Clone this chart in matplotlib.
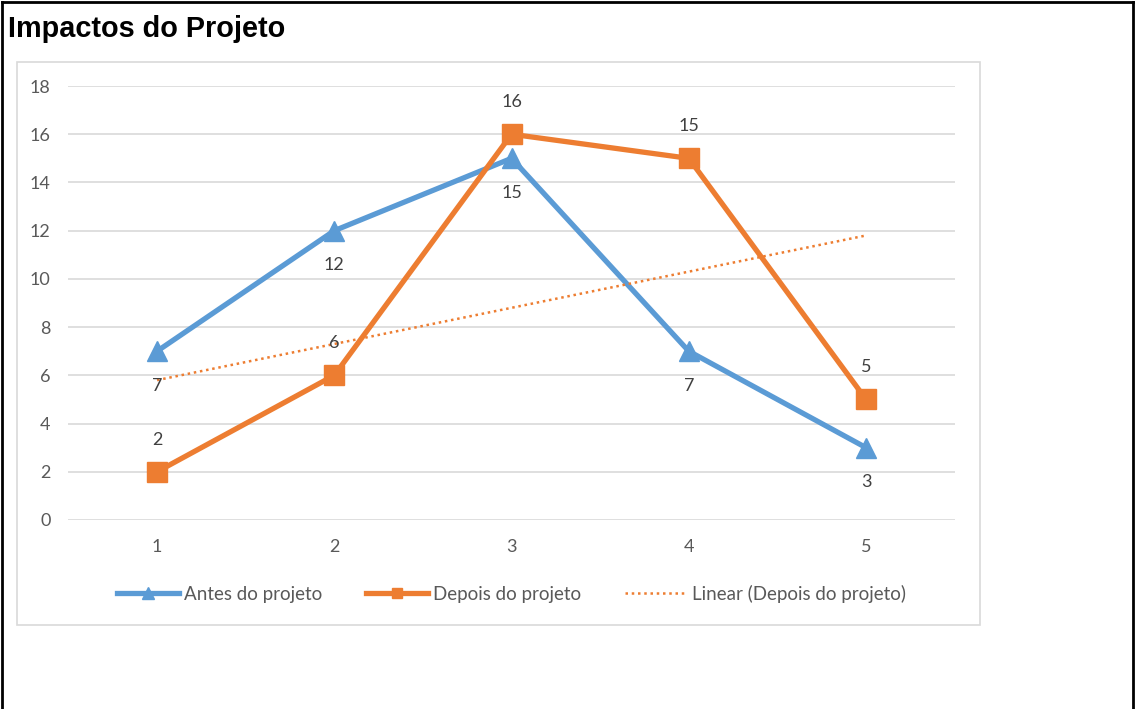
import numpy as np
import matplotlib.pyplot as plt
from matplotlib.patches import Rectangle
from matplotlib.lines import Line2D

# dados do grafico
categorias = [1, 2, 3, 4, 5]
antes = [7, 12, 15, 7, 3]
depois = [2, 6, 16, 15, 5]
yticks = [0, 2, 4, 6, 8, 10, 12, 14, 16, 18]

azul = '#5B9BD5'
laranja = '#ED7D31'
cinza_txt = '#595959'

plt.rcParams['font.family'] = ['Lato', 'DejaVu Sans']

fig = plt.figure(figsize=(11.35, 7.09), dpi=100)

# borda externa preta
fig.add_artist(Line2D([0.002, 0.002], [0, 0.997], transform=fig.transFigure, color='black', lw=2))
fig.add_artist(Line2D([0.002, 0.998], [0.997, 0.997], transform=fig.transFigure, color='black', lw=2))
fig.add_artist(Line2D([0.998, 0.998], [0, 0.997], transform=fig.transFigure, color='black', lw=2))

fig.text(0.007, 0.959, 'Impactos do Projeto', fontsize=20.8, fontweight='bold',
         family='Liberation Sans', va='center', ha='left')

# caixa do grafico
fig.add_artist(Rectangle((0.015, 0.1185), 0.8485, 0.794, transform=fig.transFigure,
                         fill=False, edgecolor='#d9d9d9', lw=1.2))

ax = fig.add_axes([0.0603, 0.2666, 0.7808, 0.6121])
ax.set_xlim(0.5, 5.5)
ax.set_ylim(0, 18)
ax.set_yticks(yticks)
ax.set_xticks(categorias)
ax.grid(axis='y', color='#d9d9d9', lw=1.2)
ax.set_axisbelow(True)
for s in ax.spines.values():
    s.set_visible(False)
ax.tick_params(length=0, labelsize=13, colors=cinza_txt)
ax.tick_params(axis='y', pad=13)
ax.tick_params(axis='x', pad=14)

ax.plot(categorias, antes, color=azul, lw=3.8, marker='^', markersize=15, label='Antes do projeto')
ax.plot(categorias, depois, color=laranja, lw=3.8, marker='s', markersize=14, label='Depois do projeto')

coef = np.polyfit(categorias, depois, 1)
tx = np.array([categorias[0], categorias[-1]])
ax.plot(tx, np.polyval(coef, tx), color=laranja, lw=1.8, ls=(0, (1, 1.5)),
        label='Linear (Depois do projeto)')

for x, y in zip(categorias, antes):
    ax.annotate(str(y), (x, y), xytext=(0, -25), textcoords='offset points',
                ha='center', va='center', fontsize=13, color='#404040')
for x, y in zip(categorias, depois):
    ax.annotate(str(y), (x, y), xytext=(0, 23), textcoords='offset points',
                ha='center', va='center', fontsize=13, color='#404040')

leg = ax.legend(loc='center', bbox_to_anchor=(0.5, -0.17), ncol=3, frameon=False,
                fontsize=13.5, handlelength=3.3, handletextpad=0.3, columnspacing=2.3,
                markerscale=0.55)
for t in leg.get_texts():
    t.set_color(cinza_txt)

fig.savefig('out.png', dpi=100)
